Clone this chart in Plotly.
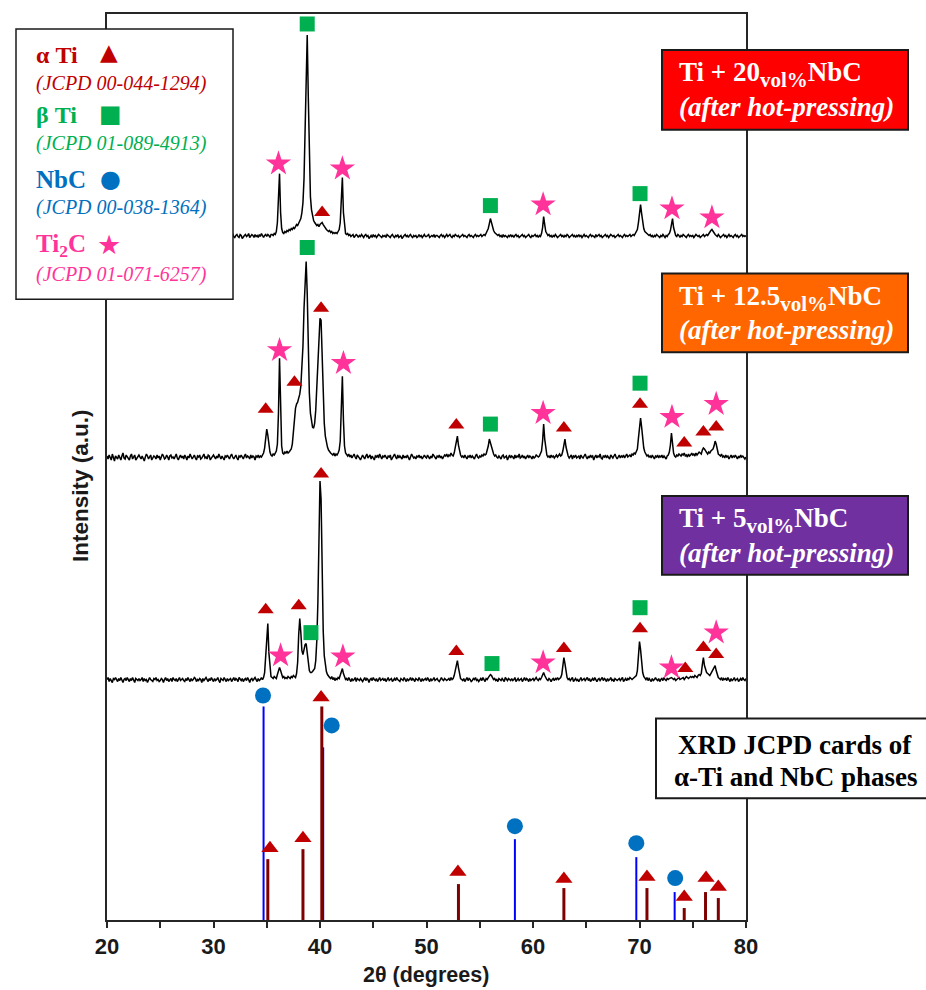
import plotly.graph_objects as go

# ======================= DATA =======================
# 2-theta grid of the measured patterns: 20.0 .. 80.0 deg, 0.1 deg step
TWO_THETA = [round(20 + i / 10, 1) for i in range(601)]

# Intensities (a.u.), relative to each pattern's own baseline.
# One row per degree (x.0 .. x.9), last row = 80.0
P20_ROWS = [
    [0, 2, -1, 1, 3, 0, -2, 1, 2, -1],  # 20
    [1, -1, 0, 2, 1, -2, 0, 3, 1, -1],  # 21
    [2, 0, -1, 1, -2, 1, 2, 0, -1, 2],  # 22
    [0, -2, 1, 3, 0, 1, -1, 2, 0, -1],  # 23
    [1, 2, -1, 0, 2, -2, 1, 0, 3, 1],  # 24
    [-1, 0, 2, 1, -1, 2, 0, -2, 1, 0],  # 25
    [2, 1, -1, 0, 1, 3, 0, -1, 2, 0],  # 26
    [-2, 1, 0, 2, -1, 1, 2, 0, -1, 1],  # 27
    [0, 3, 1, -1, 0, 2, -1, 1, 0, 2],  # 28
    [1, -1, 2, 0, -2, 1, 0, 2, 1, -1],  # 29
    [0, 2, 1, -1, 1, 0, 3, 1, -1, 0],  # 30
    [2, 0, -1, 1, 2, -1, 0, 1, 3, 0],  # 31
    [-1, 1, 2, 0, -1, 2, 1, -2, 0, 1],  # 32
    [2, 0, 1, 3, -1, 0, 2, 1, -1, 2],  # 33
    [0, 1, -1, 2, 0, 3, 1, -1, 1, 2],  # 34
    [0, 2, 1, -1, 2, 2, 1, 3, 2, 5],  # 35
    [14, 42, 63, 24, 8, 4, 3, 5, 4, 6],  # 36
    [5, 7, 6, 8, 7, 9, 8, 10, 12, 11],  # 37
    [13, 15, 18, 24, 34, 58, 110, 182, 202, 140],  # 38
    [70, 40, 27, 20, 16, 14, 12, 11, 12, 10],  # 39
    [12, 13, 14, 12, 10, 8, 7, 6, 5, 6],  # 40
    [4, 5, 3, 4, 3, 4, 3, 5, 7, 14],  # 41
    [42, 59, 24, 8, 3, 2, 3, 1, 2, 0],  # 42
    [1, 2, -1, 0, 2, 1, -1, 1, 0, 2],  # 43
    [0, -1, 1, 2, 0, 1, -2, 0, 1, -1],  # 44
    [2, 0, 1, -1, 0, 2, 1, 0, -1, 1],  # 45
    [0, 1, -1, 2, 1, 0, -1, 1, 2, 0],  # 46
    [-1, 1, 0, 2, -1, 0, 1, -2, 0, 1],  # 47
    [2, 0, 1, -1, 1, 2, 0, -1, 1, 0],  # 48
    [1, -1, 0, 2, 0, 1, -1, 1, 2, 0],  # 49
    [0, 1, 2, -1, 0, 1, 0, 2, -1, 1],  # 50
    [1, 0, -1, 1, 2, 0, 1, -1, 0, 2],  # 51
    [0, 1, 2, 0, -1, 1, 0, 2, 1, 0],  # 52
    [1, -1, 0, 1, 2, 0, 1, 0, -1, 1],  # 53
    [2, 0, 1, 0, -1, 1, 2, 0, 1, 0],  # 54
    [1, 2, 0, 1, 2, 1, 3, 5, 8, 13],  # 55
    [18, 14, 9, 6, 4, 3, 2, 1, 2, 0],  # 56
    [1, -1, 2, 0, 1, 0, -1, 1, 0, 2],  # 57
    [0, 1, -1, 1, 2, 0, 1, -1, 0, 1],  # 58
    [2, 0, 1, -1, 0, 1, 2, 0, -1, 1],  # 59
    [0, 1, 2, 0, 1, -1, 1, 0, 3, 9],  # 60
    [20, 12, 5, 3, 1, 2, 0, 1, -1, 1],  # 61
    [0, 2, 1, -1, 0, 1, 2, 0, 1, -1],  # 62
    [1, 0, 2, 1, -1, 0, 1, 2, 0, 1],  # 63
    [-1, 1, 0, 2, 0, 1, -1, 1, 2, 0],  # 64
    [1, 0, -1, 1, 2, 0, 1, 0, -1, 2],  # 65
    [0, 1, 2, 0, 1, -1, 0, 1, 2, 0],  # 66
    [1, -1, 0, 2, 1, 0, 1, -1, 0, 1],  # 67
    [2, 0, 1, 0, -1, 1, 2, 0, 1, 0],  # 68
    [1, 2, 0, 1, 2, 1, 3, 4, 7, 14],  # 69
    [25, 32, 23, 14, 8, 5, 4, 3, 2, 1],  # 70
    [2, 0, 1, -1, 1, 0, 2, 1, 0, -1],  # 71
    [1, 0, 2, 1, -1, 1, 0, 2, 3, 6],  # 72
    [11, 18, 9, 3, 1, 0, 2, 1, -1, 1],  # 73
    [0, 2, 1, 0, -1, 1, 2, 0, 1, 0],  # 74
    [1, -1, 0, 2, 1, 0, 1, -1, 0, 1],  # 75
    [2, 0, 1, 2, 1, 3, 4, 6, 7, 5],  # 76
    [3, 2, 1, 0, 2, 1, -1, 0, 1, 2],  # 77
    [0, 1, -1, 1, 2, 0, 1, 0, -1, 1],  # 78
    [2, 0, 1, -1, 0, 1, 2, 0, 1, 0],  # 79
    [1],  # 80
]

P12_ROWS = [
    [2, -1, 3, 0, -2, 4, 1, -3, 2, 0],  # 20
    [-1, 3, 1, -2, 2, 5, 0, -1, 3, 1],  # 21
    [0, -2, 2, 4, -1, 1, 3, -2, 0, 2],  # 22
    [3, 1, -1, 2, 0, -3, 1, 4, 2, -1],  # 23
    [1, 3, -2, 0, 2, 1, -1, 3, 0, 2],  # 24
    [-2, 1, 4, 2, -1, 0, 3, 1, -2, 2],  # 25
    [3, 0, 1, -1, 2, 4, 0, -2, 1, 3],  # 26
    [0, 2, -1, 3, 1, -2, 2, 0, 4, 1],  # 27
    [-1, 1, 3, 0, -2, 2, 1, 3, -1, 0],  # 28
    [2, 4, 0, 1, -1, 3, 2, -2, 0, 1],  # 29
    [3, 1, -1, 2, 0, 4, 1, -1, 2, 0],  # 30
    [-2, 2, 1, 3, 0, -1, 2, 4, 1, -1],  # 31
    [1, 3, 0, -2, 2, 1, 3, 0, -1, 2],  # 32
    [4, 0, 2, 1, -1, 3, 0, 2, 1, -2],  # 33
    [2, 1, 3, 0, 2, 1, 3, 5, 10, 20],  # 34
    [29, 23, 12, 6, 3, 2, 4, 3, 5, 7],  # 35
    [14, 45, 100, 42, 12, 5, 4, 6, 5, 7],  # 36
    [5, 6, 7, 9, 14, 25, 40, 50, 54, 56],  # 37
    [60, 64, 72, 88, 112, 150, 185, 197, 165, 105],  # 38
    [65, 45, 36, 31, 30, 35, 48, 72, 105, 130],  # 39
    [140, 138, 100, 60, 35, 22, 15, 11, 8, 6],  # 40
    [5, 4, 3, 5, 2, 4, 3, 5, 8, 17],  # 41
    [48, 82, 38, 12, 5, 3, 2, 4, 1, 3],  # 42
    [0, 2, 4, 1, -1, 3, 2, 0, -2, 1],  # 43
    [3, 1, -1, 2, 4, 0, 1, 3, -1, 2],  # 44
    [0, -2, 2, 1, 3, 0, 4, 1, -1, 2],  # 45
    [1, 3, 0, -1, 2, 1, 3, -2, 0, 2],  # 46
    [4, 1, -1, 3, 0, 2, 1, -1, 3, 0],  # 47
    [2, 0, 3, 1, -2, 1, 4, 2, 0, 1],  # 48
    [-1, 2, 1, 3, 0, 2, -1, 1, 3, 1],  # 49
    [0, 3, 1, -1, 2, 0, 4, 2, 1, -1],  # 50
    [2, 1, 3, 0, 2, -1, 1, 3, 2, 4],  # 51
    [1, 3, 2, 5, 3, 2, 5, 10, 18, 22],  # 52
    [13, 7, 3, 1, 2, 0, 3, 1, -1, 2],  # 53
    [1, 3, 0, 2, 1, -1, 2, 4, 1, 0],  # 54
    [2, 1, 3, 2, 4, 3, 4, 7, 12, 19],  # 55
    [15, 10, 6, 4, 2, 3, 1, 0, 2, 1],  # 56
    [-1, 2, 3, 0, 1, 2, -2, 1, 3, 0],  # 57
    [2, 1, -1, 3, 0, 2, 1, 4, 0, 1],  # 58
    [3, 0, 2, -1, 1, 3, 0, 2, 1, -1],  # 59
    [2, 0, 1, 3, 2, 1, 2, 4, 7, 17],  # 60
    [34, 19, 7, 3, 1, 2, 0, 3, 1, 2],  # 61
    [0, 2, 3, 1, 2, 4, 2, 3, 7, 14],  # 62
    [19, 11, 5, 2, 0, 1, 3, -1, 2, 1],  # 63
    [3, 0, 1, 2, -1, 3, 1, 0, 2, 4],  # 64
    [1, -1, 2, 0, 3, 1, 2, -2, 1, 3],  # 65
    [0, 2, 1, 4, 0, -1, 2, 1, 3, 0],  # 66
    [2, 1, -1, 3, 1, 0, 2, 4, 1, -1],  # 67
    [1, 3, 0, 2, 1, 3, 0, 2, 4, 1],  # 68
    [2, 3, 1, 4, 3, 5, 4, 6, 9, 20],  # 69
    [35, 40, 31, 19, 10, 6, 4, 2, 3, 1],  # 70
    [2, 0, 3, 1, -1, 2, 1, 3, 0, 2],  # 71
    [1, 3, 0, 2, 1, -1, 2, 3, 6, 13],  # 72
    [25, 12, 5, 2, 1, 3, 2, 4, 3, 2],  # 73
    [4, 3, 5, 2, 3, 1, 4, 2, 3, 5],  # 74
    [3, 4, 2, 5, 3, 4, 6, 5, 4, 8],  # 75
    [10, 9, 7, 5, 4, 6, 5, 7, 8, 9],  # 76
    [12, 17, 14, 8, 4, 3, 2, 4, 1, 2],  # 77
    [0, 3, 1, 2, -1, 1, 3, 0, 2, 1],  # 78
    [3, 1, -1, 2, 0, 3, 1, 2, 0, -1],  # 79
    [1],  # 80
]

P5_ROWS = [
    [1, 3, -1, 2, 0, -2, 2, 1, 3, 0],  # 20
    [-1, 2, 0, 3, 1, -2, 1, 2, 0, 3],  # 21
    [1, -1, 2, 0, 3, 1, -2, 2, 1, 0],  # 22
    [2, 0, 1, 3, -1, 2, 0, 1, -2, 1],  # 23
    [3, 1, 0, -1, 2, 1, 3, 0, 1, -1],  # 24
    [0, 2, 1, -2, 1, 3, 0, 2, -1, 1],  # 25
    [2, -1, 3, 1, 0, 2, -1, 1, 3, 0],  # 26
    [1, 2, 0, -1, 2, 0, 3, 1, -1, 2],  # 27
    [0, 1, 3, 2, -1, 1, 0, 2, 1, -2],  # 28
    [2, 0, 1, 3, 1, -1, 2, 0, 3, 1],  # 29
    [-1, 2, 0, 1, 3, 0, -2, 2, 1, 0],  # 30
    [3, 1, -1, 2, 0, 1, 2, -1, 1, 3],  # 31
    [0, 2, 1, -1, 3, 1, 0, 2, -1, 1],  # 32
    [2, 0, 3, 1, -2, 1, 2, 0, 1, 3],  # 33
    [1, -1, 2, 0, 1, 3, 1, 3, 8, 24],  # 34
    [50, 57, 28, 10, 4, 3, 2, 4, 3, 2],  # 35
    [6, 10, 13, 10, 5, 3, 4, 2, 3, 2],  # 36
    [4, 3, 2, 4, 3, 5, 4, 3, 7, 18],  # 37
    [46, 62, 48, 30, 26, 30, 36, 37, 28, 16],  # 38
    [10, 8, 8, 9, 10, 12, 20, 40, 78, 148],  # 39
    [200, 182, 108, 50, 25, 14, 9, 6, 4, 3],  # 40
    [2, 4, 1, 3, 0, 2, 1, 3, 2, 5],  # 41
    [9, 12, 7, 3, 1, 2, 0, 3, 1, -1],  # 42
    [2, 0, 1, 3, -1, 2, 1, 0, 2, 1],  # 43
    [-1, 1, 3, 0, 2, 1, -2, 1, 2, 0],  # 44
    [3, 1, 0, 2, -1, 1, 3, 0, 1, 2],  # 45
    [0, 2, -1, 1, 3, 0, 1, 2, -1, 1],  # 46
    [2, 0, 3, 1, 0, -1, 2, 1, 0, 3],  # 47
    [1, -1, 2, 0, 1, 3, 0, 2, 1, -1],  # 48
    [2, 1, 0, 3, 1, -1, 2, 0, 1, 2],  # 49
    [0, 3, 1, -1, 2, 0, 1, 3, 0, 1],  # 50
    [2, 0, -1, 1, 3, 1, 0, 2, 1, 0],  # 51
    [1, 2, 0, 3, 1, 2, 5, 11, 18, 20],  # 52
    [13, 6, 2, 1, 0, 2, -1, 1, 3, 0],  # 53
    [2, 1, -1, 0, 2, 1, 3, 0, 1, -1],  # 54
    [1, 2, 0, 3, 1, -1, 2, 1, 3, 4],  # 55
    [6, 5, 3, 1, 2, 0, 1, -1, 2, 1],  # 56
    [0, 2, 1, -1, 3, 1, 0, 2, 1, 0],  # 57
    [2, 0, 1, 3, -1, 1, 2, 0, 1, 2],  # 58
    [-1, 1, 3, 0, 2, 1, -1, 2, 0, 1],  # 59
    [2, 0, 1, 3, 1, 0, 2, 1, 3, 5],  # 60
    [8, 5, 2, 1, 0, 2, 1, -1, 1, 2],  # 61
    [0, 2, 1, 3, 1, 2, 3, 6, 13, 23],  # 62
    [17, 7, 3, 1, 2, 0, 1, 3, -1, 1],  # 63
    [2, 0, 1, -1, 2, 3, 0, 1, 2, 0],  # 64
    [1, 3, 0, 2, -1, 1, 2, 0, 3, 1],  # 65
    [-1, 1, 2, 0, 1, 3, 0, 2, 1, -1],  # 66
    [2, 0, 1, 3, 0, 1, -1, 2, 1, 0],  # 67
    [1, 2, 0, 1, 3, -1, 1, 2, 0, 2],  # 68
    [1, 3, 2, 1, 2, 3, 3, 5, 10, 26],  # 69
    [39, 31, 15, 8, 4, 2, 1, 3, 0, 2],  # 70
    [1, -1, 2, 0, 1, 3, 1, 0, 2, -1],  # 71
    [1, 2, 0, 3, 1, 0, 2, 1, 2, 3],  # 72
    [3, 2, 1, 2, 0, 1, 2, 3, 1, 2],  # 73
    [2, 3, 1, 2, 4, 3, 2, 3, 4, 3],  # 74
    [4, 3, 5, 4, 3, 5, 6, 5, 7, 16],  # 75
    [23, 15, 10, 8, 7, 6, 5, 7, 9, 12],  # 76
    [13, 15, 10, 5, 3, 2, 1, 3, 0, 2],  # 77
    [1, 2, 0, 3, 1, -1, 2, 0, 1, 3],  # 78
    [0, 1, 2, -1, 1, 2, 0, 3, 1, 0],  # 79
    [2],  # 80
]

# JCPD reference cards (2-theta, relative intensity a.u.)
NBC_CARD_2THETA = [34.7, 40.3, 58.3, 69.7, 73.3]
NBC_CARD_INT = [214, 173, 81, 63, 28]
ATI_CARD_2THETA = [35.1, 38.4, 40.17, 53.0, 62.9, 70.7, 74.2, 76.2, 77.4]
ATI_CARD_INT = [61, 71, 214, 36, 32, 32, 12, 28, 22]

# Phase identification markers (2-theta, height above the pattern baseline)
P20_TRI = ([40.2], [24])
P20_SQ = ([38.8, 56.0, 70.05], [213, 31, 43])
P20_STAR = ([36.1, 42.1, 60.95, 73.05, 76.8], [73, 68, 32, 28, 19])

P12_TRI = ([34.9, 37.6, 40.1, 52.8, 62.9, 70.05, 74.2, 76.0, 77.2],
           [49, 76, 150, 33, 30, 54, 15, 26, 31])
P12_SQ = ([38.8, 56.0, 70.05], [211, 34, 75])
P12_STAR = ([36.2, 42.2, 60.95, 73.05, 77.2], [108, 95, 45, 41, 54])

P5_TRI = ([34.9, 38.0, 40.1, 52.8, 62.9, 70.05, 74.3, 76.0, 77.2],
          [71, 75, 207, 29, 32, 52, 12, 33, 26])
P5_SQ = ([39.15, 56.15, 70.05], [48, 17, 73])
P5_STAR = ([36.3, 42.15, 60.95, 73.0, 77.2], [25, 24, 18, 13, 48])

CARD_CIRCLE = ([34.65, 41.1, 58.3, 69.7, 73.35], [225, 195, 94, 77, 42])
CARD_TRI = ([35.3, 38.4, 40.1, 52.95, 62.9, 70.7, 74.2, 76.25, 77.4],
            [72, 82, 223, 48, 41, 43, 23, 42, 33])

X_TICKS = [20, 30, 40, 50, 60, 70, 80]

# ======================= LAYOUT CONSTANTS =======================
W, H = 926, 990
L, R, T, B = 107, 746, 12, 920
PW, PH = R - L, B - T
OFFSETS = {"p20": 685, "p12": 463, "p5": 240}

C_TRI = "#C00000"
C_SQ = "#00B050"
C_CIR = "#0070C0"
C_STAR = "#FF3399"
SERIF = "Liberation Serif, Times New Roman, serif"
SANS = "Liberation Sans, Arial, sans-serif"


def flat(rows):
    out = [v for r in rows for v in r]
    assert len(out) == len(TWO_THETA)
    return out


def px_x(px):
    return (px - L) / PW


def px_y(py):
    return (B - py) / PH


fig = go.Figure()

# ---- measured patterns ----
for key, rows in (("p20", P20_ROWS), ("p12", P12_ROWS), ("p5", P5_ROWS)):
    off = OFFSETS[key]
    fig.add_trace(go.Scatter(x=TWO_THETA, y=[v + off for v in flat(rows)],
                             mode="lines", line=dict(color="black", width=1.5),
                             hoverinfo="skip"))

# ---- reference sticks ----
def sticks(xs, hs):
    sx, sy = [], []
    for x, h in zip(xs, hs):
        sx += [x, x, None]
        sy += [0, h, None]
    return sx, sy

sx, sy = sticks(NBC_CARD_2THETA, NBC_CARD_INT)
fig.add_trace(go.Scatter(x=sx, y=sy, mode="lines", line=dict(color="#0000FF", width=2)))
sx, sy = sticks(ATI_CARD_2THETA, ATI_CARD_INT)
fig.add_trace(go.Scatter(x=sx, y=sy, mode="lines", line=dict(color="#7F0000", width=3)))

# ---- markers ----
def add_markers(pos, off, symbol, color, size):
    xs, ys = pos
    fig.add_trace(go.Scatter(x=xs, y=[v + off for v in ys], mode="markers",
                             marker=dict(symbol=symbol, color=color, size=size,
                                         line=dict(width=0)),
                             cliponaxis=False))

for key, tri, sq, st in (("p20", P20_TRI, P20_SQ, P20_STAR),
                         ("p12", P12_TRI, P12_SQ, P12_STAR),
                         ("p5", P5_TRI, P5_SQ, P5_STAR)):
    off = OFFSETS[key]
    add_markers(tri, off, "triangle-up", C_TRI, 14)
    add_markers(sq, off, "square", C_SQ, 15)
    add_markers(st, off, "star", C_STAR, 19)

add_markers(CARD_CIRCLE, 0, "circle", C_CIR, 16)
add_markers(CARD_TRI, 0, "triangle-up", C_TRI, 15)

# ---- shapes (legend box + labelled boxes) ----
shapes = []

def box(x0, y0, x1, y1, fill, lw=1.5):
    shapes.append(dict(type="rect", xref="paper", yref="paper",
                       x0=px_x(x0), x1=px_x(x1), y0=px_y(y1), y1=px_y(y0),
                       fillcolor=fill, line=dict(color="#1a1a1a", width=lw),
                       layer="above"))

box(16, 27, 233, 298, "white")
box(662, 48, 908, 128, "#FF0000", 2)
box(662, 272, 908, 351, "#FF6600", 2)
box(662, 495, 908, 574, "#7030A0", 2)
box(656, 718, 930, 798, "white", 2)

ann = []

def text(px, py, s, size, color, family=SERIF, xanchor="left", angle=0):
    ann.append(dict(xref="paper", yref="paper", x=px_x(px), y=px_y(py), text=s,
                    showarrow=False, xanchor=xanchor, yanchor="middle",
                    font=dict(family=family, size=size, color=color),
                    textangle=angle))

# legend
text(34, 53, "<b>α Ti</b>", 24, C_TRI)
text(34, 82, "<i>(JCPD 00-044-1294)</i>", 20, C_TRI)
text(34, 113, "<b>β Ti</b>", 24, C_SQ)
text(34, 142, "<i>(JCPD 01-089-4913)</i>", 20, C_SQ)
text(34, 178, "<b>NbC</b>", 25, C_CIR)
text(34, 206, "<i>(JCPD 00-038-1364)</i>", 20, C_CIR)
text(34, 244, "<b>Ti<sub>2</sub>C</b>", 25, C_STAR)
text(34, 273, "<i>(JCPD 01-071-6257)</i>", 20, C_STAR)
text(109, 50, "▲", 23, C_TRI, "DejaVu Sans", "center")
text(110, 112, "■", 24, C_SQ, "DejaVu Sans", "center")
text(110, 177, "●", 24, C_CIR, "DejaVu Sans", "center")
text(109, 243, "★", 27, C_STAR, "DejaVu Sans", "center")

# sample labels
SUB = "<sub><span style='font-size:21px'>vol%</span></sub>"
for top, comp in ((48, "20"), (272, "12.5"), (495, "5")):
    text(677, top + 25, "<b>Ti + " + comp + SUB + "NbC</b>", 27, "white")
    text(677, top + 57, "<b><i>(after hot-pressing)</i></b>", 27, "white")

text(795, 745, "<b>XRD JCPD cards of</b>", 27, "black", xanchor="center")
text(795, 777, "<b>α-Ti and NbC phases</b>", 27, "black", xanchor="center")

# axis titles
text(426, 975, "<b>2θ (degrees)</b>", 21.5, "#1a1a1a", SANS, "center")
text(81, 485, "<b>Intensity (a.u.)</b>", 22.5, "#1a1a1a", SANS, "center", -90)

fig.update_layout(
    width=W, height=H,
    margin=dict(l=L, r=W - R, t=T, b=H - B),
    paper_bgcolor="white", plot_bgcolor="white",
    showlegend=False,
    shapes=shapes, annotations=ann,
    xaxis=dict(range=[20, 80], tickvals=X_TICKS, ticktext=[str(v) for v in X_TICKS],
               ticks="outside", ticklen=6, tickwidth=1.5, tickcolor="#262626",
               showline=True, linecolor="#262626", linewidth=1.5, mirror=True,
               showgrid=False, zeroline=False,
               tickfont=dict(family=SANS, size=22, color="#1a1a1a", weight="bold"),
               minor=dict(dtick=5, tick0=20, ticks="outside", ticklen=6, tickwidth=1.5,
                          tickcolor="#262626", showgrid=False)),
    yaxis=dict(range=[0, PH], showticklabels=False, ticks="",
               showline=True, linecolor="#262626", linewidth=1.5, mirror=True,
               showgrid=False, zeroline=False),
)

fig.write_html("out.html",
               config={"displayModeBar": False},
               post_script="document.body.style.margin='0px';"
                           "document.body.style.overflow='hidden';")
